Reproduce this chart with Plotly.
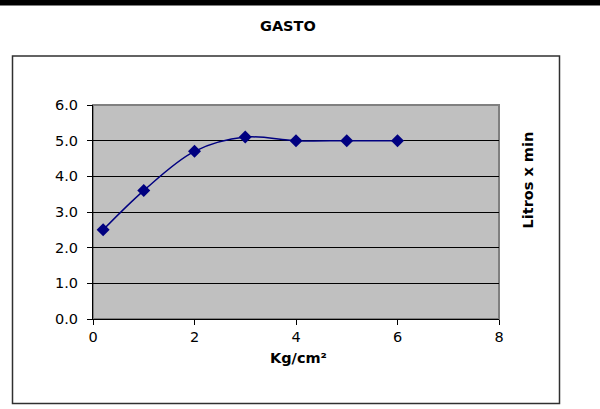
import plotly.graph_objects as go

x_vals = [0.2, 1, 2, 3, 4, 5, 6]
y_vals = [2.5, 3.6, 4.7, 5.1, 5.0, 5.0, 5.0]
x_ticks = [0, 2, 4, 6, 8]
y_ticks = [0, 1, 2, 3, 4, 5, 6]

W, H = 600, 409
L, R, T, B = 93, 499, 105, 319

def px(x):
    return (x - L) / (R - L)

def py(y):
    return (B - y) / (B - T)

font = "DejaVu Sans, Arial, sans-serif"

fig = go.Figure()
fig.add_trace(go.Scatter(
    x=x_vals, y=y_vals, mode="lines+markers",
    line=dict(color="#000080", width=1.5, shape="spline", smoothing=1.0),
    marker=dict(symbol="diamond", size=10, color="#000080"),
    showlegend=False, cliponaxis=False,
))

fig.update_layout(
    width=W, height=H,
    margin=dict(l=L, r=W - R, t=T, b=H - B),
    paper_bgcolor="white", plot_bgcolor="#C0C0C0",
    font=dict(family=font, size=14.5, color="black"),
    xaxis=dict(range=[0, 8], tickvals=x_ticks, showgrid=False, zeroline=False,
               showline=True, linecolor="black", linewidth=1,
               ticks="outside", ticklen=5, tickcolor="black",
               tickfont=dict(size=14.5)),
    yaxis=dict(range=[0, 6], tickvals=y_ticks, tickformat=".1f",
               showgrid=True, gridcolor="black", gridwidth=1, zeroline=False,
               showline=True, linecolor="black", linewidth=1,
               ticks="outside", ticklen=5, tickcolor="black",
               ticklabelstandoff=6,
               tickfont=dict(size=14.5)),
    shapes=[
        # top black bar
        dict(type="rect", xref="paper", yref="paper",
             x0=px(0), x1=px(W), y0=py(0), y1=py(5.5),
             fillcolor="black", line=dict(width=0), layer="above"),
        # outer chart box
        dict(type="rect", xref="paper", yref="paper",
             x0=px(12.5), x1=px(559.5), y0=py(56), y1=py(403.5),
             line=dict(color="#303030", width=1.5), fillcolor="rgba(0,0,0,0)",
             layer="below"),
        # plot area border (grey)
        dict(type="rect", xref="paper", yref="paper",
             x0=0, x1=1, y0=0, y1=1,
             line=dict(color="#808080", width=2), fillcolor="rgba(0,0,0,0)",
             layer="below"),
    ],
    annotations=[
        dict(text="<b>GASTO</b>", xref="paper", yref="paper",
             x=px(288), y=py(16), showarrow=False,
             font=dict(size=14.5, family=font)),
        dict(text="<b>Kg/cm²</b>", xref="paper", yref="paper",
             x=px(298), y=py(368), showarrow=False,
             font=dict(size=14.5, family=font)),
        dict(text="<b>Litros x min</b>", xref="paper", yref="paper",
             x=px(537.5), y=py(180), showarrow=False, textangle=-90,
             font=dict(size=14.5, family=font)),
    ],
)

fig.write_html("out.html", config={"displayModeBar": False},
               post_script="document.body.style.margin='0';")
